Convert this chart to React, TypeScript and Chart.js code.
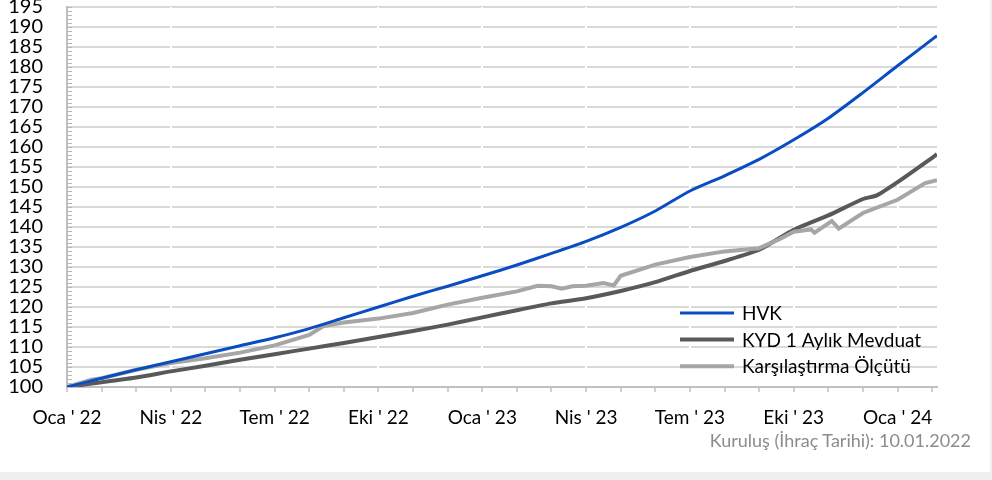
import React, { useEffect, useRef } from "react";
import { Chart, registerables } from "chart.js";

Chart.register(...registerables);

// x positions are months since January 2022
const X_LABELS = ["Oca ' 22", "Nis ' 22", "Tem ' 22", "Eki ' 22", "Oca ' 23", "Nis ' 23", "Tem ' 23", "Eki ' 23", "Oca ' 24"];
const X_MAX = 25.14;
const Y_MIN = 100;
const Y_MAX = 195;

const HVK_X = [0, 1, 2, 3, 4, 5, 6, 7, 8, 9, 10, 11, 12, 13, 14, 15, 16, 17, 18, 19, 20, 21, 22, 23, 24, 25, 25.14];
const HVK_Y = [100, 102.2, 104.3, 106.3, 108.3, 110.3, 112.3, 114.6, 117.3, 120.0, 122.7, 125.2, 127.8, 130.5, 133.4, 136.4, 139.9, 144.0, 149.0, 152.8, 156.9, 161.8, 167.2, 173.6, 180.3, 186.9, 187.8];

const KYD_X = [0, 1, 2, 3, 4, 5, 6, 7, 8, 9, 10, 11, 12, 13, 14, 15, 16, 17, 18, 19, 20, 21, 22, 23, 23.4, 24, 25, 25.14];
const KYD_Y = [100, 101.2, 102.4, 103.9, 105.3, 106.8, 108.2, 109.6, 111.0, 112.5, 114.0, 115.6, 117.4, 119.2, 120.9, 122.2, 124.0, 126.2, 129.0, 131.5, 134.3, 139.3, 142.9, 147.0, 147.9, 151.2, 157.3, 158.2];

const KAR_X = [0, 0.7, 1, 2, 3, 4, 5, 6, 7, 7.4, 8, 9, 10, 11, 12, 13, 13.6, 14, 14.3, 14.6, 15, 15.5, 15.8, 16, 17, 18, 19, 20, 20.6, 21, 21.5, 21.6, 22.1, 22.3, 23, 24, 24.8, 25.14];
const KAR_Y = [100, 101.8, 102.2, 104.3, 106.0, 107.2, 108.6, 110.4, 113.0, 115.2, 116.1, 117.1, 118.5, 120.6, 122.3, 123.9, 125.3, 125.2, 124.6, 125.2, 125.3, 126.0, 125.4, 127.8, 130.6, 132.5, 133.9, 134.7, 137.0, 138.8, 139.4, 138.6, 141.5, 139.6, 143.5, 146.8, 151.0, 151.7];

const SERIES_LABELS = ["HVK", "KYD 1 Aylık Mevduat", "Karşılaştırma Ölçütü"];
const FOOTER = "Kuruluş (İhraç Tarihi): 10.01.2022";

const FONT = "Lato, 'Noto Sans', sans-serif";

const pts = (xs: number[], ys: number[]) => xs.map((x, i) => ({ x, y: ys[i] }));

const minorTicks = {
  id: "minorTicks",
  beforeDatasetsDraw(chart: any) {
    const y = chart.scales.y;
    const ctx = chart.ctx;
    const left = chart.chartArea.left;
    ctx.save();
    ctx.strokeStyle = "#b8b8b8";
    ctx.lineWidth = 1;
    for (let v = Y_MIN; v <= Y_MAX; v += 1) {
      const py = Math.round(y.getPixelForValue(v)) + 0.5;
      ctx.beginPath();
      ctx.moveTo(left, py);
      ctx.lineTo(left + 5, py);
      ctx.stroke();
    }
    ctx.restore();
  },
};

const innerLegend = {
  id: "innerLegend",
  afterDraw(chart: any) {
    const ctx = chart.ctx;
    ctx.save();
    chart.data.datasets.forEach((ds: any, i: number) => {
      const cy = 313 + i * 26.6;
      ctx.strokeStyle = ds.borderColor;
      ctx.lineWidth = ds.borderWidth;
      ctx.beginPath();
      ctx.moveTo(680, cy);
      ctx.lineTo(734, cy);
      ctx.stroke();
      ctx.fillStyle = "#000000";
      ctx.font = `19px ${FONT}`;
      ctx.textBaseline = "middle";
      ctx.textAlign = "left";
      ctx.fillText(ds.label, 742, cy + 1);
    });
    ctx.restore();
  },
};

export default function App() {
  const ref = useRef<HTMLCanvasElement>(null);

  useEffect(() => {
    if (!ref.current) return;
    const chart = new Chart(ref.current, {
      type: "line",
      data: {
        datasets: [
          { label: SERIES_LABELS[0], data: pts(HVK_X, HVK_Y), borderColor: "#0a4cc2", borderWidth: 3, pointRadius: 0, tension: 0.25, order: 1 },
          { label: SERIES_LABELS[1], data: pts(KYD_X, KYD_Y), borderColor: "#595959", borderWidth: 4, pointRadius: 0, tension: 0.2, order: 3 },
          { label: SERIES_LABELS[2], data: pts(KAR_X, KAR_Y), borderColor: "#a6a6a6", borderWidth: 4, pointRadius: 0, tension: 0, order: 2 },
        ],
      },
      options: {
        responsive: false,
        animation: false,
        layout: { padding: { left: 0, right: 53, top: 7, bottom: 0 } },
        plugins: { legend: { display: false }, tooltip: { enabled: false } },
        scales: {
          x: {
            type: "linear",
            min: 0,
            max: X_MAX,
            afterBuildTicks: (scale: any) => {
              const t = [];
              for (let m = 0; m <= Math.floor(X_MAX); m++) t.push({ value: m });
              scale.ticks = t;
            },
            afterFit: (scale: any) => {
              scale.height = 73;
              scale.paddingRight = 0;
            },
            ticks: {
              autoSkip: false,
              maxRotation: 0,
              padding: 14,
              color: "#000000",
              font: { family: FONT, size: 19 },
              callback: (v: any) => (Number(v) % 3 === 0 ? X_LABELS[Number(v) / 3] ?? "" : ""),
            },
            grid: {
              z: 0,
              lineWidth: 2,
              color: (c: any) => (c.tick && c.tick.value % 3 === 0 && c.tick.value !== 0 ? "#ffffff" : "rgba(0,0,0,0)"),
              tickColor: "#c0c0c0",
              tickLength: 5,
              tickWidth: 1.5,
            },
            border: { display: true, color: "#c0c0c0", width: 2 },
          },
          y: {
            min: Y_MIN,
            max: Y_MAX,
            afterFit: (scale: any) => {
              scale.width = 67;
              scale.paddingTop = 0;
              scale.paddingBottom = 0;
            },
            ticks: {
              stepSize: 5,
              autoSkip: false,
              padding: 24,
              color: "#000000",
              font: { family: FONT, size: 20 },
            },
            grid: { z: -1, color: "#d9d9d9", lineWidth: 2, drawTicks: false },
            border: { display: true, color: "#c0c0c0", width: 2 },
          },
        },
      },
      plugins: [minorTicks, innerLegend],
    } as any);
    return () => chart.destroy();
  }, []);

  return (
    <div style={{ position: "fixed", left: 0, top: 0, width: 992, height: 480, background: "#f0f0f0" }}>
      <div style={{ position: "absolute", left: 0, top: 0, width: 990, height: 472, background: "#ffffff" }}>
        <canvas ref={ref} width={990} height={460} style={{ position: "absolute", left: 0, top: 0, width: 990, height: 460 }} />
        <div
          style={{
            position: "absolute",
            right: 19,
            top: 430,
            fontFamily: FONT,
            fontSize: 18,
            lineHeight: "20px",
            color: "#8c8c8c",
            whiteSpace: "nowrap",
          }}
        >
          {FOOTER}
        </div>
      </div>
    </div>
  );
}
